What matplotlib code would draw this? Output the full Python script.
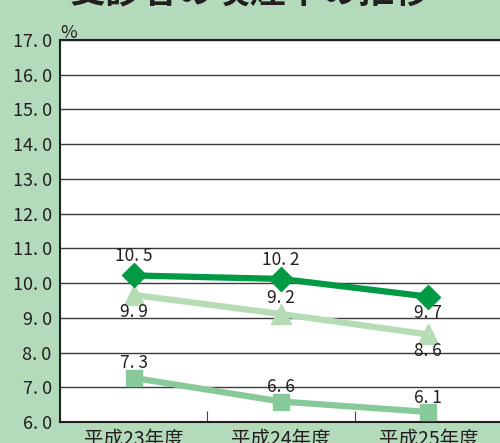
import matplotlib
matplotlib.use("Agg")
import matplotlib.pyplot as plt

plt.rcParams['font.family'] = ['Noto Sans CJK JP', 'DejaVu Sans']

years = ["平成23年度", "平成24年度", "平成25年度"]

# 点の位置と表示ラベル
diamond_vals = [10.22, 10.12, 9.61]
diamond_lbls = ["10. 5", "10. 2", "9. 7"]
triangle_vals = [9.66, 9.11, 8.52]
triangle_lbls = ["9. 9", "9. 2", "8. 6"]
square_vals = [7.27, 6.59, 6.29]
square_lbls = ["7. 3", "6. 6", "6. 1"]

yticks = [6, 7, 8, 9, 10, 11, 12, 13, 14, 15, 16, 17]

BG = "#b3dbbb"
DARK = "#009944"
LIGHT = "#b5dcb5"
MID = "#88c999"
TXT = "#231f20"

fig = plt.figure(figsize=(5, 4.43), dpi=100, facecolor=BG)
ax = fig.add_axes([0.12, 0.0474, 0.884, 0.8623])
ax.set_facecolor("white")

x = range(len(years))
ax.plot(x, square_vals, color=MID, lw=4.5, marker="s", ms=12, zorder=3)
ax.plot(x, triangle_vals, color=LIGHT, lw=4.5, marker="^", ms=15, zorder=4)
ax.plot(x, diamond_vals, color=DARK, lw=4.5, marker="D", ms=12, zorder=5)

# ラベル (上 / 下)
offs = [
    (diamond_vals, diamond_lbls, [19, 19, -16]),
    (triangle_vals, triangle_lbls, [-17, 16, -17]),
    (square_vals, square_lbls, [15, 15, 14]),
]
for vals, lbls, dys in offs:
    for i, (v, l, dy) in enumerate(zip(vals, lbls, dys)):
        ax.annotate(l, (i, v), xytext=(0, dy), textcoords="offset pixels",
                    ha="center", va="center", fontsize=12.5, color=TXT, zorder=6)

ax.set_xlim(-0.5, 2.5)
ax.set_ylim(6, 17)
ax.set_yticks(yticks)
ax.set_yticklabels([f"{t}. 0" for t in yticks], fontsize=13, color=TXT)
ax.yaxis.grid(True, color="#3a3a3a", lw=1.0)
ax.set_axisbelow(True)
ax.tick_params(axis="y", length=0, pad=6)

ax.set_xticks([0.5, 1.5], minor=False)
ax.set_xticklabels([])
ax.tick_params(axis="x", direction="in", length=8, color="#444444")
for i, yr in enumerate(years):
    ax.text(i, -0.018, yr, transform=ax.get_xaxis_transform(), ha="center",
            va="top", fontsize=14, color=TXT)

for s in ["left", "top", "bottom"]:
    ax.spines[s].set_color("#231f20")
    ax.spines[s].set_linewidth(1.5)
ax.spines["right"].set_visible(False)

fig.text(0.12, 0.905, "%", fontsize=13, color=TXT, ha="left", va="bottom")
fig.text(0.5, 1.0 - 10 / 443, "受診者の喫煙率の推移", fontsize=26, fontweight="bold",
         color=TXT, ha="center", va="bottom")

fig.savefig("out.png", dpi=100, facecolor=BG)
